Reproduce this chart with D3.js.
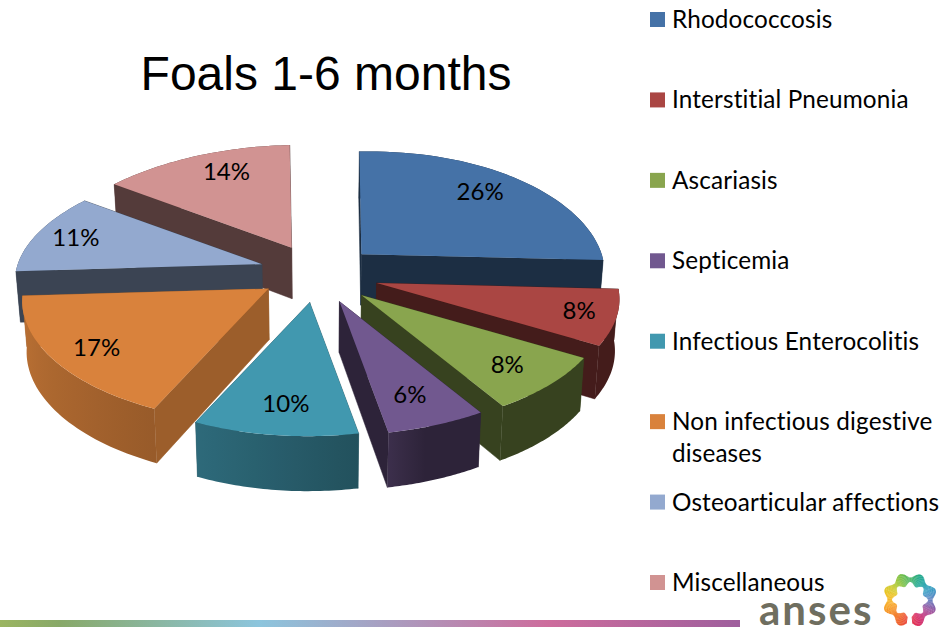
<!DOCTYPE html>
<html lang='en'>
	<head>
		<title>Foals 1-6 months</title>
		<script type='text/javascript' src='https://cdn.jsdelivr.net/npm/d3@7'></script>
		<style>
			html, body { margin: 0; padding: 0; background: #ffffff; }
			svg { display: block; }
			text { font-variant-ligatures: none; }
		</style>
	</head>
	<body>
		<script type='text/javascript'>
		var categories = ['Rhodococcosis', 'Interstitial Pneumonia', 'Ascariasis', 'Septicemia', 'Infectious Enterocolitis', 'Non infectious digestive diseases', 'Osteoarticular affections', 'Miscellaneous'];
		var shares = [26, 8, 8, 6, 10, 17, 11, 14];
		var colors = ['#4572a7', '#aa4643', '#89a54e', '#71588f', '#4198af', '#d9823c', '#93a9cf', '#d19392'];
		// how dark the cut faces of each slice are, orange is the odd one in the reference
		var wall_tones = [0.4, 0.4, 0.4, 0.4, 0.55, 0.72, 0.4, 0.4];
		// the reference does not put its labels on one radius
		var label_dx = [-3, 22, 6, 0, 4, -10, -14, 11];
		var label_dy = [-7, 0, 1, 0, 2, 4, -4, -7];
		var bar_colors = ['#9bb561', '#88a968', '#8cc5dd', '#cd6c9c', '#9f5f9d'];
		var bar_stops = [0, 0.08, 0.35, 0.74, 1];
		var logo_colors = ['#1fa88a', '#2a9fd8', '#9b59a6', '#e0115f', '#ee5a1f', '#f79a1e', '#f9d423', '#6cbf3b', '#1fa88a'];

		var width = 951, height = 627;
		var svg_elem = d3.select('body').append('svg').attr('width', width).attr('height', height)
		var defs = svg_elem.append('defs')

		// pie angles, clockwise from the back of the pie
		var pie = d3.pie().sort(null).value(d => d)
		var arcs = pie(shares)

		// explode offset of each slice on screen
		var center_x = 319, center_y = 274
		var explode_x = d3.scaleLinear().domain([-1, 1]).range([center_x - 60, center_x + 60])
		var explode_y = d3.scaleLinear().domain([-1, 1]).range([center_y - 29, center_y + 29])

		var radius = 243, tilt = 116, persp = 0.13, thick = 51

		function mid_angle(a) {
			return (a.startAngle + a.endAngle) / 2
		}

		function apex(a) {
			var mid = mid_angle(a)
			return [explode_x(Math.sin(mid)) - 2 * Math.cos(mid), explode_y(-Math.cos(mid))]
		}

		// point on the top face of a slice, f is the fraction of the radius
		function top_point(a, angle, f) {
			var o = apex(a)
			var v = -Math.cos(angle) * f
			var s = Math.sin(angle) * f
			var k = 1 / (1 - persp * v)
			// front left spreads less than front right in the reference
			var kx = v > 0 ? 1 / (1 - (s > 0 ? 0.11 : 0.08) * v) : k
			var lean = 4 + 6 * Math.max(v, 0)
			return [
				o[0] + radius * s * kx + 8.5 * v + 6.5 * v * v - 3 * (1 - v * v) * f,
				o[1] + tilt * v * k + 3 * (1 - v * v) * f - lean * s
			]
		}

		function low_point(a, angle, f) {
			var p = top_point(a, angle, f)
			var v = -Math.cos(angle) * f
			return [center_x + (p[0] - center_x) * 0.985, p[1] + thick + 4 * v]
		}

		function rim_angles(a) {
			return d3.range(0, 41).map(i => a.startAngle + (a.endAngle - a.startAngle) * i / 40)
		}

		var line = d3.line()

		function shaded(color, tone) {
			var c = d3.rgb(color)
			return d3.rgb(c.r * tone, c.g * tone, c.b * tone).formatHex()
		}

		// lit from the left, only the front left of the rim gets any light
		var rim_tone = d3.scaleLinear().domain([165, 172.8, 208.8, 270]).range([0.4, 0.53, 0.7, 0.88]).clamp(true)

		var order = d3.range(arcs.length).sort((p, q) => d3.ascending(-Math.cos(mid_angle(arcs[p])), -Math.cos(mid_angle(arcs[q]))))

		var slice_g = svg_elem.selectAll('g.slice').data(order).enter().append('g').attr('class', 'slice')

		slice_g.each(function(i) {
			var a = arcs[i], g = d3.select(this)
			var color = colors[i], dark = shaded(color, wall_tones[i])
			var steps = rim_angles(a)
			var near = -Math.cos(mid_angle(a)) > 0

			var rim_pts = steps.map(t => top_point(a, t, 1)).concat(steps.slice().reverse().map(t => low_point(a, t, 1)))
			var rim_fill = dark
			if(near) {
				// shade runs along the wall, so a gradient over x does it
				var x1 = top_point(a, a.startAngle, 1)[0], x2 = top_point(a, a.endAngle, 1)[0]
				var grad = defs.append('linearGradient').attr('id', 'rim' + i)
					.attr('gradientUnits', 'userSpaceOnUse')
					.attr('x1', x1).attr('x2', x2).attr('y1', 0).attr('y2', 0)
				d3.range(0, 9).forEach(n => {
					var t = a.startAngle + (a.endAngle - a.startAngle) * n / 8
					grad.append('stop')
						.attr('offset', (top_point(a, t, 1)[0] - x1) / (x2 - x1))
						.attr('stop-color', shaded(color, rim_tone(t * 180 / Math.PI)))
				})
				rim_fill = 'url(#rim' + i + ')'
			}

			// back walls first, then the cut faces, then the front wall
			if(!near)
				g.append('path').attr('d', line(rim_pts) + 'Z').attr('fill', rim_fill)

			var faces = [a.startAngle, a.endAngle].sort((p, q) => d3.ascending(-Math.cos(p), -Math.cos(q)))
			faces.forEach(angle => {
				var pts = [top_point(a, angle, 0), top_point(a, angle, 1), low_point(a, angle, 1), low_point(a, angle, 0)]
				g.append('path').attr('d', line(pts) + 'Z').attr('fill', dark).attr('stroke', dark).attr('stroke-width', 0.5)
			})

			if(near)
				g.append('path').attr('d', line(rim_pts) + 'Z').attr('fill', rim_fill)

			// top face
			var top_pts = [top_point(a, a.startAngle, 0)].concat(steps.map(t => top_point(a, t, 1)))
			g.append('path').attr('d', line(top_pts) + 'Z').attr('fill', color)
		})

		// value labels
		var label_frac = 0.76
		svg_elem.selectAll('text.value').data(arcs).enter().append('text')
			.attr('class', 'value')
			.attr('x', (d, i) => top_point(d, mid_angle(d), label_frac)[0] + label_dx[i])
			.attr('y', (d, i) => top_point(d, mid_angle(d), label_frac)[1] + 9.5 + label_dy[i])
			.attr('text-anchor', 'middle')
			.attr('font-family', 'Lato')
			.attr('font-size', 24)
			.attr('fill', '#000000')
			.text(d => d.data + '%')

		// title
		svg_elem.append('text')
			.attr('x', 326).attr('y', 90)
			.attr('text-anchor', 'middle')
			.attr('font-family', 'Liberation Sans')
			.attr('font-size', 48)
			.attr('fill', '#000000')
			.text('Foals 1-6 months')

		// legend
		var legend_y = d3.scalePoint().domain(categories).range([19, 582])
		var legend = svg_elem.selectAll('g.legend').data(categories).enter().append('g')
			.attr('class', 'legend')
			.attr('transform', d => 'translate(650,' + legend_y(d) + ')')
		legend.append('rect')
			.attr('x', 0).attr('y', -7).attr('width', 15).attr('height', 15)
			.attr('fill', (d, i) => colors[i])
		legend.append('text')
			.attr('x', 22).attr('y', 9)
			.attr('font-family', 'Lato')
			.attr('font-size', 24.3)
			.attr('letter-spacing', 0.15)
			.attr('fill', '#000000')
			.each(function(d) {
				// the one long entry wraps on two lines
				var lines = d.length > 30 ? ['Non infectious digestive', 'diseases'] : [d]
				d3.select(this).selectAll('tspan').data(lines).enter().append('tspan')
					.attr('x', 22)
					.attr('dy', (l, n) => n ? 31.5 : 0)
					.text(l => l)
			})

		// strip along the bottom
		var bar_grad = defs.append('linearGradient').attr('id', 'bar_grad')
		bar_colors.forEach((c, i) => {
			bar_grad.append('stop').attr('offset', bar_stops[i]).attr('stop-color', c)
		})
		svg_elem.append('rect').attr('x', 0).attr('y', 620).attr('width', 740).attr('height', 7).attr('fill', 'url(#bar_grad)')

		// logo
		svg_elem.append('text')
			.attr('x', 759).attr('y', 625)
			.attr('font-family', 'Lato')
			.attr('font-weight', 'bold')
			.attr('font-size', 42)
			.attr('letter-spacing', 2)
			.attr('fill', '#6f6e5f')
			.text('anses')

		defs.append('filter').attr('id', 'soft').append('feGaussianBlur').attr('stdDeviation', 0.6)

		// ring of eight beads, open at the bottom, colour comes round the ring
		var ring_color = d3.interpolateRgbBasis(logo_colors)
		var ring_step = d3.range(0, 180).filter(s => Math.abs(s - 90) > 3)
		var ring_arc = d3.arc()
		svg_elem.append('g').attr('transform', 'translate(910,600)').attr('filter', 'url(#soft)')
			.selectAll('path').data(ring_step).enter().append('path')
			.attr('d', s => {
				var t0 = s / 180 * 2 * Math.PI, t1 = (s + 1.2) / 180 * 2 * Math.PI
				var wave = -Math.cos(8 * t0)
				return ring_arc({innerRadius: 16 - 2 * wave, outerRadius: 25 + 2.5 * wave, startAngle: t0, endAngle: t1})
			})
			.attr('fill', s => ring_color(((s / 180 * 360 - 22.5 + 360) % 360) / 360))
		</script>
	</body>
</html>
